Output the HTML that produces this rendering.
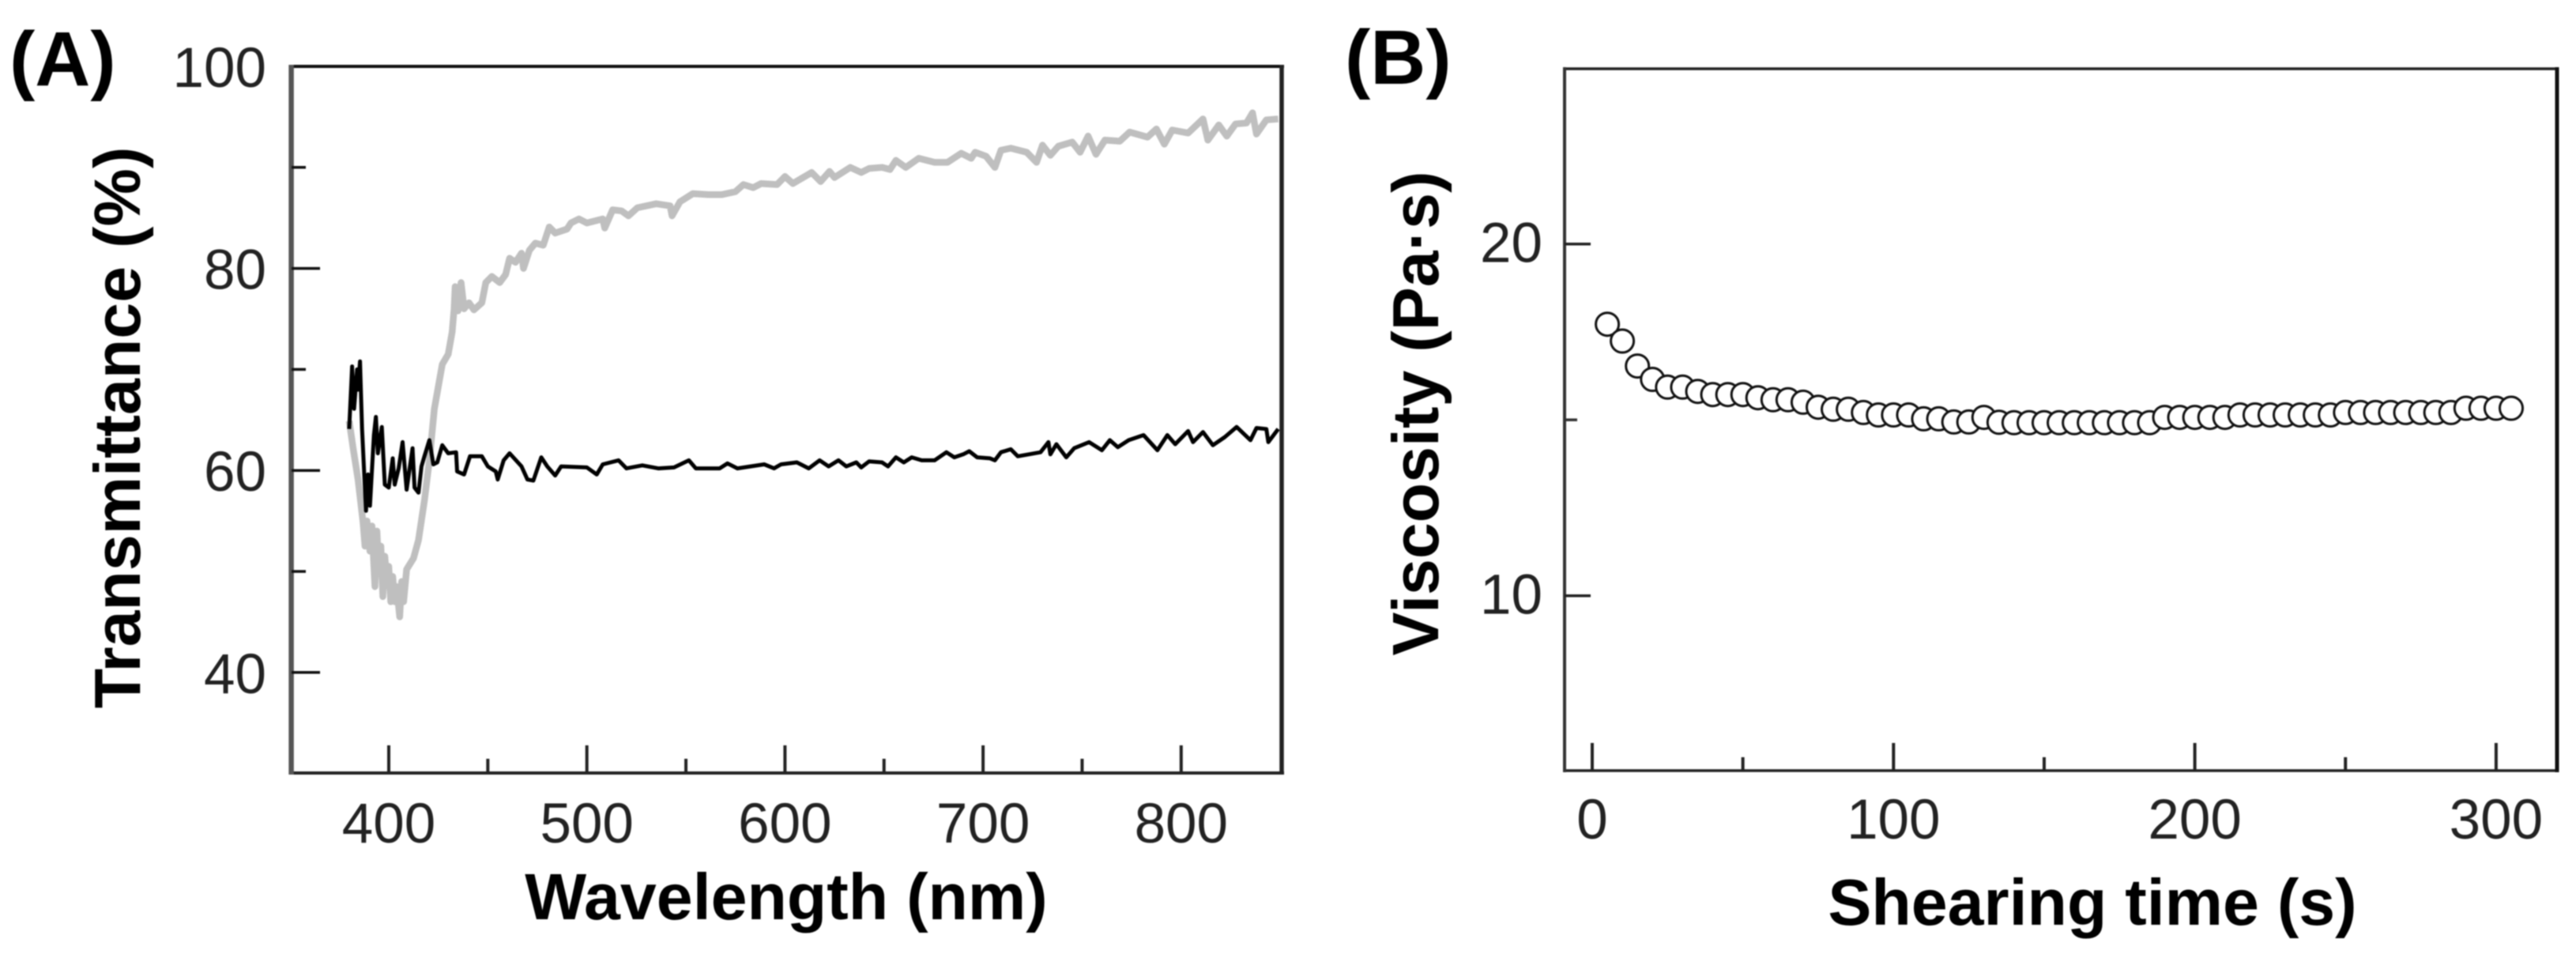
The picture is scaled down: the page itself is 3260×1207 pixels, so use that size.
<!DOCTYPE html>
<html lang="en">
<head>
<meta charset="utf-8">
<title>Transmittance and viscosity charts</title>
<style>
html,body{margin:0;padding:0;background:#fff;}
body{width:3260px;height:1207px;overflow:hidden;}
svg{display:block;filter:blur(0.8px);}
text{font-family:"Liberation Sans",Arial,sans-serif;fill:#111;}
.tick{font-size:71px;fill:#222;}
.title{font-size:82.5px;font-weight:bold;fill:#000;}
.panel{font-size:97px;font-weight:bold;fill:#000;}
</style>
</head>
<body>
<svg id="figure" xmlns="http://www.w3.org/2000/svg" width="3260" height="1207" viewBox="0 0 3260 1207">
  <rect x="0" y="0" width="3260" height="1207" fill="#fff"/>
  <g id="panel-a">
    <text class="panel" x="12" y="108">(A)</text>
    <text class="title" transform="translate(177 541) rotate(-90)" text-anchor="middle">Transmittance (%)</text>
    <text class="title" x="995" y="1163" text-anchor="middle">Wavelength (nm)</text>
  </g>
  <g id="panel-b">
    <text class="panel" x="1702" y="106">(B)</text>
    <text class="title" transform="translate(1820 523) rotate(-90)" text-anchor="middle">Viscosity (Pa·s)</text>
    <text class="title" x="2648" y="1170" text-anchor="middle">Shearing time (s)</text>
  </g>
</svg>
<script>
// Panel A data
const grayWavelengths = [380,382,384.5,387,388,389,390.5,391.5,392.5,393,394,395,396,397,398,399,400,401,402,403,404,405.5,406.5,407.5,409,412.5,415,418,420.5,423,427,430,432,433,433.5,435,436.5,438,440.5,443,447,449,452,456,459,461,464,467,468,471,474,478,481,484,490,492,496,500,508,509,513,517.5,521,525.5,535,542,543,547,553.5,561.5,568,575,579,584,588,596,600,604,613.5,618,622.5,625,633,638.5,642.5,649,653,656,661,667.5,675.5,682,689,694,696,701.5,706,709,714,722,727,730,734,738,745,749,753,757,761.5,769,774,783,787.5,791.5,795.5,803.5,811,813.5,819,823,827.5,833,836,838,843,849];
const grayTransmittance = [64.9,62.2,59.1,54.9,52.5,55,52,54.5,50.5,48.5,54,50,52.5,47.5,51.5,49,50.5,47,49.5,47,48.5,45.5,49,47,50.2,51.3,53.1,57,61,66.1,70.5,71.5,73.7,76,78.2,75.8,78.6,76,76.6,75.9,76.6,78.6,79.2,78.6,79.4,81,80.6,81.5,80,81.8,82.5,82.3,84.1,83.5,83.9,84.5,84.9,84.5,84.9,84,85.8,85.7,85.2,86,86.4,86.2,85.2,86.6,87.4,87.3,87.3,87.6,88.3,88,88.4,88.3,89.1,88.4,89.5,88.6,89.6,89,90,89.5,89.9,90,89.8,90.7,90,90.9,90.5,90.5,91.4,90.9,91.5,91.1,90,91.7,91.9,91.5,90.5,92.2,91.2,92.1,92.5,91.5,93.1,91.3,92.7,92.6,93.5,93,93.8,92.3,93.7,93.4,94.8,92.7,94.2,93.1,94.3,94.4,95.4,93.3,94.7,94.8];
const blackWavelengths = [380,381.5,382.5,384,384.5,385.5,386.5,388.5,389.5,390.5,392.5,393.5,394.5,396.5,398,400,402,403,405,407,409,412,413,415,416.5,418,420.5,422.5,424.5,427,430,434,434.5,438,441,447,450,454,455,458,461,467,470,473,477,480,484,487,500,505,508,516,520,528,536,544,551.5,555,567,571,576,589.5,594.5,598,606,612,617.5,622,627,631,636,638.5,642.5,649,652,656,660,664,669,675.5,681.5,685.5,690,693,697,703.5,706,709,714,717.5,729,733,734,737,742,746,753.5,760,764,768,773.5,781,788,793,797,803.5,806,811,816,822,828,835,838,843,844,849];
const blackTransmittance = [64.1,70.3,66.1,70,68,70.8,64.1,56,59.6,56.5,63.5,65.3,61.7,64.3,58.6,58.3,61.2,58.6,60.2,62.8,58.1,62.2,58.3,57.8,60.4,61.4,63,60.6,60.8,62.5,61.7,61.8,59.9,59.6,61.4,61.4,60.4,59.9,59.1,61,61.7,60.4,59.1,59,61.3,60.4,59.5,60.4,60.3,59.6,60.6,61,60.2,60.5,60.2,60.3,61,60.2,60.2,60.7,60.2,60.6,60.2,60.6,60.8,60.2,61,60.4,61,60.4,60.8,60.3,60.9,60.8,60.4,61.3,60.8,61.3,61,61,61.8,61.3,61.6,61.9,61.3,61.2,61,61.8,62.1,61.4,61.8,62.8,61.6,62.6,61.3,62.2,62.8,62,63,62.3,63,63.5,62,63.5,62.6,63.9,62.8,63.8,62.5,63.3,64.3,63,64.2,64.1,62.8,64.1];
const aXMajor = [400,500,600,700,800];
const aXMinor = [450,550,650,750];
const aYMajor = [40,60,80,100];
const aYMinor = [50,70,90];

// Panel B data
const shearTimes = [5,10,15,20,25,30,35,40,45,50,55,60,65,70,75,80,85,90,95,100,105,110,115,120,125,130,135,140,145,150,155,160,165,170,175,180,185,190,195,200,205,210,215,220,225,230,235,240,245,250,255,260,265,270,275,280,285,290,295,300,305];
const viscosity = [17.72,17.24,16.53,16.15,15.93,15.93,15.81,15.72,15.72,15.72,15.63,15.57,15.57,15.5,15.36,15.3,15.3,15.21,15.14,15.14,15.14,15.03,15.03,14.94,14.94,15.07,14.93,14.92,14.92,14.92,14.92,14.92,14.92,14.92,14.92,14.92,14.92,15.07,15.07,15.07,15.07,15.07,15.14,15.14,15.14,15.14,15.14,15.14,15.14,15.21,15.21,15.21,15.21,15.21,15.21,15.21,15.21,15.33,15.33,15.33,15.33];
const bXMajor = [0,100,200,300];
const bXMinor = [50,150,250];
const bYMajor = [10,20];
const bYMinor = [15];

// Axis functions
function xA(w){ return 492 + (w - 400) * 2.507; }
function yA(v){ return 84 + (100 - v) * 12.78; }
function xB(t){ return 2015 + t * 3.813; }
function yB(v){ return 308.7 + (20 - v) * 44.5; }

const NS = 'http://www.w3.org/2000/svg';
const panelA = document.getElementById('panel-a');
const panelB = document.getElementById('panel-b');

function makeLine(parent, x1, y1, x2, y2, color, width){
  const el = document.createElementNS(NS, 'line');
  el.setAttribute('x1', x1);
  el.setAttribute('y1', y1);
  el.setAttribute('x2', x2);
  el.setAttribute('y2', y2);
  el.setAttribute('stroke', color);
  el.setAttribute('stroke-width', width);
  parent.appendChild(el);
  return el;
}
function makeLabel(parent, x, y, anchor, str){
  const el = document.createElementNS(NS, 'text');
  el.setAttribute('class', 'tick');
  el.setAttribute('x', x);
  el.setAttribute('y', y);
  el.setAttribute('text-anchor', anchor);
  el.textContent = str;
  parent.appendChild(el);
  return el;
}
function makeTrace(parent, xs, ys, color, width){
  const el = document.createElementNS(NS, 'polyline');
  el.setAttribute('points', xs.map(function(w, i){ return xA(w).toFixed(1) + ',' + yA(ys[i]).toFixed(1); }).join(' '));
  el.setAttribute('fill', 'none');
  el.setAttribute('stroke', color);
  el.setAttribute('stroke-width', width);
  el.setAttribute('stroke-linejoin', 'round');
  parent.appendChild(el);
  return el;
}

// Panel A series
const grayTrace = makeTrace(panelA, grayWavelengths, grayTransmittance, '#bfbfbf', 8.5);


const blackTrace = makeTrace(panelA, blackWavelengths, blackTransmittance, '#000', 5);



// Panel A frame
const aTop = makeLine(panelA, 366, 84, 1625, 84, '#111', 4);


const aBottom = makeLine(panelA, 366, 978, 1625, 978, '#222', 4);


const aLeft = makeLine(panelA, 368.6, 82, 368.6, 980, '#555', 6.5);


const aRight = makeLine(panelA, 1622, 82, 1622, 980, '#222', 5.5);



// Panel A ticks
aXMajor.forEach(function(v){
  const tick = makeLine(panelA, xA(v), 978, xA(v), 943, '#222', 4);
  
  
  const label = makeLabel(panelA, xA(v), 1066, 'middle', String(v));
  
  
});
aXMinor.forEach(function(v){
  const tick = makeLine(panelA, xA(v), 978, xA(v), 960, '#222', 4);
  
  
});
aYMajor.forEach(function(v){
  if (v < 100) {
    const tick = makeLine(panelA, 369, yA(v), 405, yA(v), '#111', 3.5);
    
    
  }
  const label = makeLabel(panelA, 337, yA(v) + 26, 'end', String(v));
  
  
});
aYMinor.forEach(function(v){
  const tick = makeLine(panelA, 369, yA(v), 387, yA(v), '#111', 3.5);
  
  
});

// Panel B frame
const bTop = makeLine(panelB, 1978, 87, 3238, 87, '#222', 3.5);


const bBottom = makeLine(panelB, 1978, 975, 3238, 975, '#222', 3.5);


const bLeft = makeLine(panelB, 1980, 85, 1980, 977, '#333', 4);


const bRight = makeLine(panelB, 3236, 85, 3236, 977, '#111', 5);



// Panel B ticks
bXMajor.forEach(function(v){
  const tick = makeLine(panelB, xB(v), 975, xB(v), 940, '#222', 4);
  
  
  const label = makeLabel(panelB, xB(v), 1061, 'middle', String(v));
  
  
});
bXMinor.forEach(function(v){
  const tick = makeLine(panelB, xB(v), 975, xB(v), 958, '#222', 4);
  
  
});
bYMajor.forEach(function(v){
  const tick = makeLine(panelB, 1980, yB(v), 2013, yB(v), '#222', 3.5);
  
  
  const label = makeLabel(panelB, 1952, yB(v) + 23, 'end', String(v));
  
  
});
bYMinor.forEach(function(v){
  const tick = makeLine(panelB, 1980, yB(v), 1996, yB(v), '#333', 3.5);
  
  
});

// Panel B points
shearTimes.forEach(function(t, i){
  const point = document.createElementNS(NS, 'circle');
  
  
  point.setAttribute('cx', xB(t).toFixed(1));
  point.setAttribute('cy', yB(viscosity[i]).toFixed(1));
  point.setAttribute('r', '14.5');
  point.setAttribute('fill', '#fff');
  point.setAttribute('stroke', '#111');
  point.setAttribute('stroke-width', '3');
  panelB.appendChild(point);
});
</script>
</body>
</html>
